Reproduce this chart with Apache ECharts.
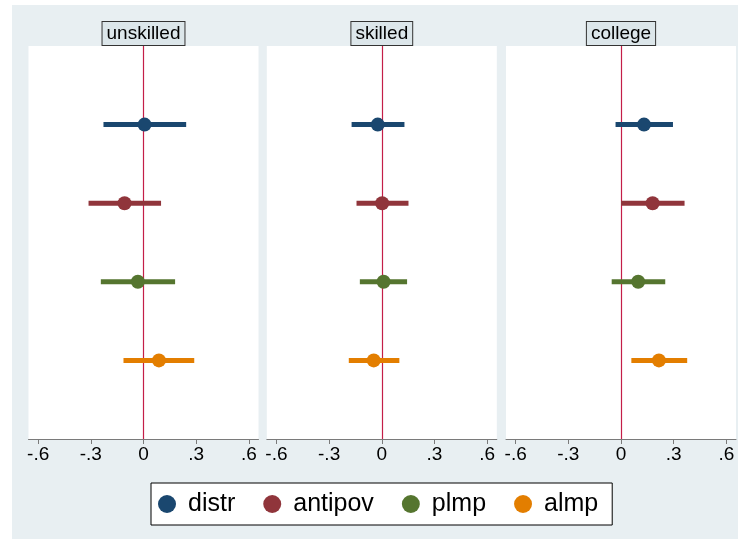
<!DOCTYPE html>
<html>
<head>
<meta charset="utf-8">
<script src="https://cdn.jsdelivr.net/npm/echarts@6/dist/echarts.min.js"></script>
<style>
html,body{margin:0;padding:0;background:#fff;}
#bg{position:absolute;left:12px;top:5px;width:726px;height:534px;background:#E8EFF2;}
#chart{position:absolute;left:0;top:0;width:738px;height:539px;}
</style>
</head>
<body>
<div id="bg"></div>
<div id="chart"></div>
<script>
// ---- data ----
const categories = ['distr', 'antipov', 'plmp', 'almp'];
const panels = ['unskilled', 'skilled', 'college'];
const colors = ['#1A476F', '#90353B', '#55752F', '#E37E00'];

const unskilledEst = [0.006, -0.108, -0.032, 0.088];
const unskilledLo  = [-0.228, -0.313, -0.243, -0.114];
const unskilledHi  = [0.243, 0.100, 0.180, 0.289];

const skilledEst = [-0.023, 0.002, 0.010, -0.046];
const skilledLo  = [-0.172, -0.144, -0.125, -0.188];
const skilledHi  = [0.129, 0.152, 0.144, 0.100];

const collegeEst = [0.131, 0.180, 0.098, 0.216];
const collegeLo  = [-0.031, 0.000, -0.053, 0.059];
const collegeHi  = [0.296, 0.362, 0.252, 0.377];

const tickValues = [-0.6, -0.3, 0, 0.3, 0.6];
const tickLabels = ['-.6', '-.3', '0', '.3', '.6'];

const panelData = [
  {est: unskilledEst, lo: unskilledLo, hi: unskilledHi},
  {est: skilledEst, lo: skilledLo, hi: skilledHi},
  {est: collegeEst, lo: collegeLo, hi: collegeHi}
];

// ---- layout ----
const FONT = '"Liberation Sans", Arial, sans-serif';
const gridLefts = [28.5, 266.8, 506];
const gridW = 230, gridTop = 46, gridH = 393;
const xMin = -0.655, xMax = 0.655;

const grids = [], xAxes = [], yAxes = [], series = [], graphics = [];

panels.forEach(function (pname, p) {
  grids.push({left: gridLefts[p], top: gridTop, width: gridW, height: gridH,
    show: true, backgroundColor: '#ffffff', borderWidth: 0, containLabel: false});
  xAxes.push({
    type: 'value', gridIndex: p, min: xMin, max: xMax,
    axisLine: {show: true, onZero: false, lineStyle: {color: '#7a7a7a', width: 1}},
    axisTick: {show: true, length: 5, lineStyle: {color: '#7a7a7a', width: 1}, customValues: tickValues},
    axisLabel: {show: true, color: '#000', fontSize: 19, fontFamily: FONT, margin: 6,
      customValues: tickValues,
      formatter: function (v) {
        const k = tickValues.findIndex(function (t) { return Math.abs(t - v) < 1e-9; });
        return k >= 0 ? tickLabels[k] : '';
      }},
    splitLine: {show: false}
  });
  yAxes.push({type: 'value', gridIndex: p, min: 0, max: categories.length + 1, inverse: true, show: false,
    splitLine: {show: false}});

  const d = panelData[p];
  categories.forEach(function (cat, i) {
    const ci = {
      type: 'custom', name: cat, xAxisIndex: p, yAxisIndex: p, z: 3,
      encode: {x: [1, 2], y: 0},
      data: [[i + 1, d.lo[i], d.hi[i]]],
      itemStyle: {color: colors[i]},
      renderItem: function (params, api) {
        const a = api.coord([api.value(1), api.value(0)]);
        const b = api.coord([api.value(2), api.value(0)]);
        return {type: 'line', shape: {x1: a[0], y1: a[1], x2: b[0], y2: b[1]},
          style: {stroke: colors[i], lineWidth: 5, lineCap: 'butt'}};
      },
      silent: true
    };
    if (i === 0) {
      ci.markLine = {
        silent: true, symbol: 'none', z: 1,
        label: {show: false},
        lineStyle: {color: '#C41E48', width: 1.2, type: 'solid'},
        emphasis: {disabled: true},
        data: [{xAxis: 0}]
      };
    }
    series.push(ci);
    series.push({
      type: 'scatter', name: cat, xAxisIndex: p, yAxisIndex: p, z: 4,
      symbol: 'circle', symbolSize: 14,
      itemStyle: {color: colors[i], opacity: 1},
      data: [[d.est[i], i + 1]],
      silent: true
    });
  });

  graphics.push({
    type: 'text',
    x: gridLefts[p] + gridW / 2, y: 22,
    style: {
      text: pname, fontSize: 19, fontFamily: FONT, fill: '#000',
      align: 'center', verticalAlign: 'top',
      backgroundColor: '#DCE6EA', borderColor: '#333', borderWidth: 1,
      padding: [1, 4, 1, 4], lineHeight: 21
    },
    z: 100
  });
});

const chart = echarts.init(document.getElementById('chart'), null, {renderer: 'canvas'});
chart.setOption({
  backgroundColor: 'transparent',
  animation: false,
  textStyle: {fontFamily: FONT},
  grid: grids,
  xAxis: xAxes,
  yAxis: yAxes,
  series: series,
  graphic: graphics,
  legend: {
    left: 151, top: 483,
    orient: 'horizontal',
    itemWidth: 18, itemHeight: 18, itemGap: 28,
    backgroundColor: '#ffffff', borderColor: '#000', borderWidth: 1,
    padding: [7, 14, 7, 7],
    selectedMode: false,
    textStyle: {fontSize: 25, color: '#000', fontFamily: FONT, padding: [0, 0, 0, 7], lineHeight: 28},
    data: categories.map(function (c, i) {
      return {name: c, icon: 'circle', itemStyle: {color: colors[i]}};
    })
  }
});
</script>
</body>
</html>
